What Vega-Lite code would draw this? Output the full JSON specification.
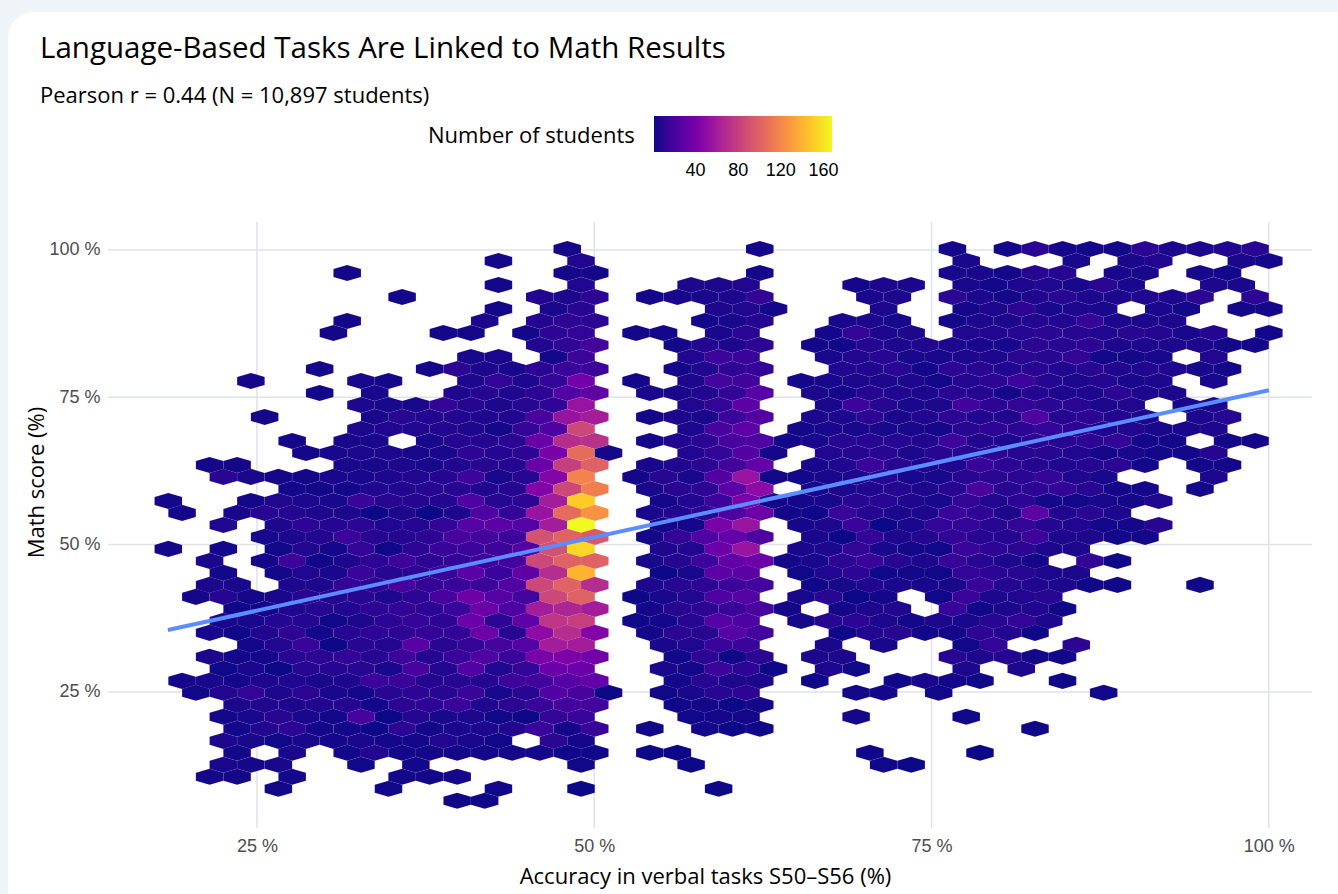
{"$schema":"https://vega.github.io/schema/vega-lite/v6.json","width":1204,"height":606,"autosize":{"type":"none"},"padding":{"left":108,"top":222,"right":26,"bottom":66},"background":"#eef4f8","config":{"view":{"stroke":null}},"title":{"text":"Language-Based Tasks Are Linked to Math Results","subtitle":"Pearson r = 0.44 (N = 10,897 students)","anchor":"start","frame":"group","dx":-68,"offset":-96,"limit":900,"font":"Open Sans","fontSize":29.5,"fontWeight":"normal","color":"#000000","subtitleFont":"Open Sans","subtitleFontSize":22,"subtitleColor":"#000000","subtitlePadding":21},"layer":[{"data":{"values":[{"x":6.55,"x2":115,"y":140.4,"y2":-25}]},"mark":{"type":"rect","fill":"#ffffff","cornerRadius":26},"encoding":{"x":{"field":"x","type":"quantitative","scale":{"domain":[13.96,103.2],"nice":false,"zero":false},"axis":{"grid":false,"domain":false,"ticks":false,"values":[25,50,75,100],"labelExpr":"datum.value + ' %'","labelFont":"Liberation Sans","labelFontSize":18,"labelColor":"#4d4d4d","labelPadding":9,"title":"Accuracy in verbal tasks S50–S56 (%)","titleFont":"Open Sans","titleFontSize":22,"titleFontWeight":"normal","titleColor":"#000000","titlePadding":11,"titleX":597,"zindex":1}},"x2":{"field":"x2"},"y":{"field":"y","type":"quantitative","scale":{"domain":[1.9,104.75],"nice":false,"zero":false},"axis":{"grid":false,"domain":false,"ticks":false,"values":[25,50,75,100],"labelExpr":"datum.value + ' %'","labelFont":"Liberation Sans","labelFontSize":18,"labelColor":"#4d4d4d","labelPadding":8,"title":"Math score (%)","titleFont":"Open Sans","titleFontSize":22,"titleFontWeight":"normal","titleColor":"#000000","titlePadding":0,"titleY":260,"zindex":1}},"y2":{"field":"y2"}}},{"data":{"values":[{"v":25},{"v":50},{"v":75},{"v":100}]},"mark":{"type":"rule","color":"#e0e2ea","strokeWidth":1.5},"encoding":{"x":{"field":"v","type":"quantitative"}}},{"data":{"values":[{"v":25},{"v":50},{"v":75},{"v":100}]},"mark":{"type":"rule","color":"#e0e2ea","strokeWidth":1.5},"encoding":{"y":{"field":"v","type":"quantitative"}}},{"data":{"values":[
{"x":48,"y":100.17,"n":3},{"x":62.27,"y":100.17,"n":3},{"x":76.55,"y":100.17,"n":3},{"x":80.63,"y":100.17,"n":3},{"x":82.67,"y":100.17,"n":9},{"x":84.71,"y":100.17,"n":3},{"x":86.74,"y":100.17,"n":3},{"x":88.78,"y":100.17,"n":3},{"x":90.82,"y":100.17,"n":10},{"x":92.86,"y":100.17,"n":5},{"x":94.9,"y":100.17,"n":5},{"x":96.94,"y":100.17,"n":6},{"x":98.98,"y":100.17,"n":8},
{"x":42.9,"y":98.13,"n":3},{"x":49.02,"y":98.13,"n":6},{"x":77.57,"y":98.13,"n":4},{"x":85.73,"y":98.13,"n":4},{"x":89.8,"y":98.13,"n":4},{"x":91.84,"y":98.13,"n":6},{"x":97.96,"y":98.13,"n":4},{"x":100,"y":98.13,"n":3},
{"x":31.69,"y":96.1,"n":3},{"x":48,"y":96.1,"n":3},{"x":50.04,"y":96.1,"n":3},{"x":62.27,"y":96.1,"n":3},{"x":76.55,"y":96.1,"n":4},{"x":78.59,"y":96.1,"n":4},{"x":80.63,"y":96.1,"n":3},{"x":82.67,"y":96.1,"n":8},{"x":84.71,"y":96.1,"n":7},{"x":88.78,"y":96.1,"n":4},{"x":90.82,"y":96.1,"n":4},{"x":94.9,"y":96.1,"n":4},{"x":96.94,"y":96.1,"n":3},
{"x":42.9,"y":94.06,"n":3},{"x":49.02,"y":94.06,"n":6},{"x":57.18,"y":94.06,"n":5},{"x":59.22,"y":94.06,"n":5},{"x":61.25,"y":94.06,"n":6},{"x":69.41,"y":94.06,"n":3},{"x":71.45,"y":94.06,"n":5},{"x":73.49,"y":94.06,"n":4},{"x":77.57,"y":94.06,"n":4},{"x":79.61,"y":94.06,"n":3},{"x":81.65,"y":94.06,"n":5},{"x":83.69,"y":94.06,"n":6},{"x":85.73,"y":94.06,"n":4},{"x":87.76,"y":94.06,"n":9},{"x":89.8,"y":94.06,"n":4},{"x":95.92,"y":94.06,"n":5},{"x":97.96,"y":94.06,"n":4},
{"x":35.76,"y":92.03,"n":3},{"x":45.96,"y":92.03,"n":6},{"x":48,"y":92.03,"n":5},{"x":50.04,"y":92.03,"n":10},{"x":54.12,"y":92.03,"n":3},{"x":56.16,"y":92.03,"n":4},{"x":58.2,"y":92.03,"n":4},{"x":60.24,"y":92.03,"n":5},{"x":62.27,"y":92.03,"n":12},{"x":70.43,"y":92.03,"n":4},{"x":72.47,"y":92.03,"n":5},{"x":76.55,"y":92.03,"n":9},{"x":78.59,"y":92.03,"n":5},{"x":80.63,"y":92.03,"n":3},{"x":82.67,"y":92.03,"n":6},{"x":84.71,"y":92.03,"n":8},{"x":86.74,"y":92.03,"n":5},{"x":88.78,"y":92.03,"n":5},{"x":90.82,"y":92.03,"n":6},{"x":92.86,"y":92.03,"n":5},{"x":94.9,"y":92.03,"n":9},{"x":98.98,"y":92.03,"n":10},
{"x":42.9,"y":89.99,"n":3},{"x":46.98,"y":89.99,"n":4},{"x":49.02,"y":89.99,"n":8},{"x":59.22,"y":89.99,"n":5},{"x":61.25,"y":89.99,"n":6},{"x":63.29,"y":89.99,"n":3},{"x":71.45,"y":89.99,"n":5},{"x":77.57,"y":89.99,"n":3},{"x":79.61,"y":89.99,"n":5},{"x":81.65,"y":89.99,"n":10},{"x":83.69,"y":89.99,"n":4},{"x":85.73,"y":89.99,"n":5},{"x":87.76,"y":89.99,"n":4},{"x":91.84,"y":89.99,"n":4},{"x":93.88,"y":89.99,"n":3},{"x":97.96,"y":89.99,"n":3},{"x":100,"y":89.99,"n":3},
{"x":31.69,"y":87.95,"n":3},{"x":41.88,"y":87.95,"n":5},{"x":45.96,"y":87.95,"n":7},{"x":48,"y":87.95,"n":10},{"x":50.04,"y":87.95,"n":10},{"x":58.2,"y":87.95,"n":3},{"x":60.24,"y":87.95,"n":4},{"x":62.27,"y":87.95,"n":7},{"x":68.39,"y":87.95,"n":4},{"x":70.43,"y":87.95,"n":5},{"x":72.47,"y":87.95,"n":4},{"x":76.55,"y":87.95,"n":3},{"x":78.59,"y":87.95,"n":5},{"x":80.63,"y":87.95,"n":5},{"x":82.67,"y":87.95,"n":7},{"x":84.71,"y":87.95,"n":6},{"x":86.74,"y":87.95,"n":13},{"x":88.78,"y":87.95,"n":5},{"x":90.82,"y":87.95,"n":5},{"x":92.86,"y":87.95,"n":5},
{"x":30.67,"y":85.92,"n":3},{"x":38.82,"y":85.92,"n":3},{"x":40.86,"y":85.92,"n":3},{"x":44.94,"y":85.92,"n":3},{"x":46.98,"y":85.92,"n":10},{"x":49.02,"y":85.92,"n":12},{"x":53.1,"y":85.92,"n":3},{"x":55.14,"y":85.92,"n":3},{"x":59.22,"y":85.92,"n":4},{"x":61.25,"y":85.92,"n":9},{"x":67.37,"y":85.92,"n":3},{"x":69.41,"y":85.92,"n":12},{"x":71.45,"y":85.92,"n":5},{"x":73.49,"y":85.92,"n":5},{"x":77.57,"y":85.92,"n":6},{"x":79.61,"y":85.92,"n":6},{"x":81.65,"y":85.92,"n":8},{"x":83.69,"y":85.92,"n":9},{"x":85.73,"y":85.92,"n":8},{"x":87.76,"y":85.92,"n":6},{"x":89.8,"y":85.92,"n":8},{"x":91.84,"y":85.92,"n":7},{"x":93.88,"y":85.92,"n":4},{"x":95.92,"y":85.92,"n":7},{"x":100,"y":85.92,"n":3},
{"x":45.96,"y":83.88,"n":6},{"x":48,"y":83.88,"n":11},{"x":50.04,"y":83.88,"n":18},{"x":56.16,"y":83.88,"n":3},{"x":58.2,"y":83.88,"n":7},{"x":60.24,"y":83.88,"n":5},{"x":62.27,"y":83.88,"n":10},{"x":66.35,"y":83.88,"n":3},{"x":68.39,"y":83.88,"n":3},{"x":70.43,"y":83.88,"n":7},{"x":72.47,"y":83.88,"n":5},{"x":74.51,"y":83.88,"n":6},{"x":76.55,"y":83.88,"n":5},{"x":78.59,"y":83.88,"n":4},{"x":80.63,"y":83.88,"n":4},{"x":82.67,"y":83.88,"n":9},{"x":84.71,"y":83.88,"n":8},{"x":86.74,"y":83.88,"n":10},{"x":88.78,"y":83.88,"n":5},{"x":90.82,"y":83.88,"n":5},{"x":92.86,"y":83.88,"n":5},{"x":94.9,"y":83.88,"n":5},{"x":96.94,"y":83.88,"n":3},{"x":98.98,"y":83.88,"n":3},
{"x":40.86,"y":81.85,"n":4},{"x":42.9,"y":81.85,"n":4},{"x":46.98,"y":81.85,"n":3},{"x":49.02,"y":81.85,"n":15},{"x":57.18,"y":81.85,"n":6},{"x":59.22,"y":81.85,"n":15},{"x":61.25,"y":81.85,"n":14},{"x":67.37,"y":81.85,"n":4},{"x":69.41,"y":81.85,"n":6},{"x":71.45,"y":81.85,"n":8},{"x":73.49,"y":81.85,"n":4},{"x":75.53,"y":81.85,"n":4},{"x":77.57,"y":81.85,"n":5},{"x":79.61,"y":81.85,"n":5},{"x":81.65,"y":81.85,"n":9},{"x":83.69,"y":81.85,"n":8},{"x":85.73,"y":81.85,"n":12},{"x":87.76,"y":81.85,"n":3},{"x":89.8,"y":81.85,"n":3},{"x":91.84,"y":81.85,"n":4},{"x":95.92,"y":81.85,"n":6},
{"x":29.65,"y":79.81,"n":3},{"x":37.8,"y":79.81,"n":3},{"x":39.84,"y":79.81,"n":10},{"x":41.88,"y":79.81,"n":5},{"x":43.92,"y":79.81,"n":4},{"x":45.96,"y":79.81,"n":10},{"x":48,"y":79.81,"n":14},{"x":50.04,"y":79.81,"n":16},{"x":56.16,"y":79.81,"n":3},{"x":58.2,"y":79.81,"n":6},{"x":60.24,"y":79.81,"n":11},{"x":62.27,"y":79.81,"n":12},{"x":68.39,"y":79.81,"n":6},{"x":70.43,"y":79.81,"n":6},{"x":72.47,"y":79.81,"n":8},{"x":74.51,"y":79.81,"n":3},{"x":76.55,"y":79.81,"n":10},{"x":78.59,"y":79.81,"n":8},{"x":80.63,"y":79.81,"n":6},{"x":82.67,"y":79.81,"n":8},{"x":84.71,"y":79.81,"n":6},{"x":86.74,"y":79.81,"n":8},{"x":88.78,"y":79.81,"n":6},{"x":90.82,"y":79.81,"n":6},{"x":92.86,"y":79.81,"n":6},{"x":94.9,"y":79.81,"n":4},{"x":96.94,"y":79.81,"n":3},
{"x":24.55,"y":77.77,"n":3},{"x":32.71,"y":77.77,"n":4},{"x":34.75,"y":77.77,"n":3},{"x":40.86,"y":77.77,"n":5},{"x":42.9,"y":77.77,"n":12},{"x":44.94,"y":77.77,"n":5},{"x":46.98,"y":77.77,"n":12},{"x":49.02,"y":77.77,"n":38},{"x":53.1,"y":77.77,"n":3},{"x":57.18,"y":77.77,"n":5},{"x":59.22,"y":77.77,"n":18},{"x":61.25,"y":77.77,"n":17},{"x":65.33,"y":77.77,"n":3},{"x":67.37,"y":77.77,"n":4},{"x":69.41,"y":77.77,"n":5},{"x":71.45,"y":77.77,"n":5},{"x":73.49,"y":77.77,"n":5},{"x":75.53,"y":77.77,"n":3},{"x":77.57,"y":77.77,"n":7},{"x":79.61,"y":77.77,"n":9},{"x":81.65,"y":77.77,"n":16},{"x":83.69,"y":77.77,"n":7},{"x":85.73,"y":77.77,"n":5},{"x":87.76,"y":77.77,"n":7},{"x":89.8,"y":77.77,"n":4},{"x":91.84,"y":77.77,"n":5},{"x":95.92,"y":77.77,"n":4},
{"x":29.65,"y":75.74,"n":3},{"x":33.73,"y":75.74,"n":4},{"x":39.84,"y":75.74,"n":5},{"x":41.88,"y":75.74,"n":7},{"x":43.92,"y":75.74,"n":6},{"x":45.96,"y":75.74,"n":10},{"x":48,"y":75.74,"n":24},{"x":50.04,"y":75.74,"n":30},{"x":54.12,"y":75.74,"n":4},{"x":56.16,"y":75.74,"n":4},{"x":58.2,"y":75.74,"n":6},{"x":60.24,"y":75.74,"n":12},{"x":62.27,"y":75.74,"n":26},{"x":66.35,"y":75.74,"n":5},{"x":68.39,"y":75.74,"n":3},{"x":70.43,"y":75.74,"n":7},{"x":72.47,"y":75.74,"n":6},{"x":74.51,"y":75.74,"n":5},{"x":76.55,"y":75.74,"n":8},{"x":78.59,"y":75.74,"n":7},{"x":80.63,"y":75.74,"n":3},{"x":82.67,"y":75.74,"n":7},{"x":84.71,"y":75.74,"n":5},{"x":86.74,"y":75.74,"n":5},{"x":88.78,"y":75.74,"n":10},{"x":90.82,"y":75.74,"n":5},{"x":92.86,"y":75.74,"n":5},
{"x":32.71,"y":73.7,"n":5},{"x":34.75,"y":73.7,"n":4},{"x":36.78,"y":73.7,"n":4},{"x":38.82,"y":73.7,"n":12},{"x":40.86,"y":73.7,"n":7},{"x":42.9,"y":73.7,"n":5},{"x":44.94,"y":73.7,"n":8},{"x":46.98,"y":73.7,"n":11},{"x":49.02,"y":73.7,"n":55},{"x":57.18,"y":73.7,"n":6},{"x":59.22,"y":73.7,"n":12},{"x":61.25,"y":73.7,"n":28},{"x":67.37,"y":73.7,"n":4},{"x":69.41,"y":73.7,"n":16},{"x":71.45,"y":73.7,"n":8},{"x":73.49,"y":73.7,"n":4},{"x":75.53,"y":73.7,"n":5},{"x":77.57,"y":73.7,"n":17},{"x":79.61,"y":73.7,"n":10},{"x":81.65,"y":73.7,"n":12},{"x":83.69,"y":73.7,"n":9},{"x":85.73,"y":73.7,"n":9},{"x":87.76,"y":73.7,"n":5},{"x":89.8,"y":73.7,"n":6},{"x":93.88,"y":73.7,"n":4},{"x":95.92,"y":73.7,"n":5},
{"x":25.57,"y":71.67,"n":3},{"x":33.73,"y":71.67,"n":4},{"x":35.76,"y":71.67,"n":8},{"x":37.8,"y":71.67,"n":6},{"x":39.84,"y":71.67,"n":6},{"x":41.88,"y":71.67,"n":6},{"x":43.92,"y":71.67,"n":6},{"x":45.96,"y":71.67,"n":20},{"x":48,"y":71.67,"n":55},{"x":50.04,"y":71.67,"n":60},{"x":54.12,"y":71.67,"n":3},{"x":56.16,"y":71.67,"n":5},{"x":58.2,"y":71.67,"n":4},{"x":60.24,"y":71.67,"n":15},{"x":62.27,"y":71.67,"n":24},{"x":66.35,"y":71.67,"n":5},{"x":68.39,"y":71.67,"n":5},{"x":70.43,"y":71.67,"n":10},{"x":72.47,"y":71.67,"n":4},{"x":74.51,"y":71.67,"n":6},{"x":76.55,"y":71.67,"n":10},{"x":78.59,"y":71.67,"n":6},{"x":80.63,"y":71.67,"n":6},{"x":82.67,"y":71.67,"n":22},{"x":84.71,"y":71.67,"n":7},{"x":86.74,"y":71.67,"n":9},{"x":88.78,"y":71.67,"n":6},{"x":90.82,"y":71.67,"n":5},{"x":94.9,"y":71.67,"n":5},{"x":96.94,"y":71.67,"n":8},
{"x":32.71,"y":69.63,"n":5},{"x":34.75,"y":69.63,"n":6},{"x":36.78,"y":69.63,"n":6},{"x":38.82,"y":69.63,"n":6},{"x":40.86,"y":69.63,"n":5},{"x":42.9,"y":69.63,"n":3},{"x":44.94,"y":69.63,"n":12},{"x":46.98,"y":69.63,"n":22},{"x":49.02,"y":69.63,"n":85},{"x":57.18,"y":69.63,"n":5},{"x":59.22,"y":69.63,"n":20},{"x":61.25,"y":69.63,"n":28},{"x":65.33,"y":69.63,"n":3},{"x":67.37,"y":69.63,"n":4},{"x":69.41,"y":69.63,"n":4},{"x":71.45,"y":69.63,"n":4},{"x":73.49,"y":69.63,"n":4},{"x":75.53,"y":69.63,"n":3},{"x":77.57,"y":69.63,"n":8},{"x":79.61,"y":69.63,"n":10},{"x":81.65,"y":69.63,"n":10},{"x":83.69,"y":69.63,"n":12},{"x":85.73,"y":69.63,"n":10},{"x":87.76,"y":69.63,"n":6},{"x":89.8,"y":69.63,"n":6},{"x":91.84,"y":69.63,"n":4},{"x":93.88,"y":69.63,"n":4},{"x":95.92,"y":69.63,"n":5},
{"x":27.61,"y":67.59,"n":3},{"x":31.69,"y":67.59,"n":4},{"x":33.73,"y":67.59,"n":4},{"x":37.8,"y":67.59,"n":4},{"x":39.84,"y":67.59,"n":7},{"x":41.88,"y":67.59,"n":7},{"x":43.92,"y":67.59,"n":9},{"x":45.96,"y":67.59,"n":34},{"x":48,"y":67.59,"n":70},{"x":50.04,"y":67.59,"n":72},{"x":54.12,"y":67.59,"n":3},{"x":56.16,"y":67.59,"n":6},{"x":58.2,"y":67.59,"n":10},{"x":60.24,"y":67.59,"n":20},{"x":62.27,"y":67.59,"n":22},{"x":64.31,"y":67.59,"n":3},{"x":66.35,"y":67.59,"n":4},{"x":68.39,"y":67.59,"n":8},{"x":70.43,"y":67.59,"n":8},{"x":72.47,"y":67.59,"n":8},{"x":74.51,"y":67.59,"n":6},{"x":76.55,"y":67.59,"n":16},{"x":78.59,"y":67.59,"n":6},{"x":80.63,"y":67.59,"n":5},{"x":82.67,"y":67.59,"n":10},{"x":84.71,"y":67.59,"n":8},{"x":86.74,"y":67.59,"n":10},{"x":88.78,"y":67.59,"n":12},{"x":90.82,"y":67.59,"n":3},{"x":92.86,"y":67.59,"n":3},{"x":96.94,"y":67.59,"n":3},{"x":98.98,"y":67.59,"n":3},
{"x":28.63,"y":65.56,"n":3},{"x":30.67,"y":65.56,"n":4},{"x":32.71,"y":65.56,"n":5},{"x":34.75,"y":65.56,"n":5},{"x":36.78,"y":65.56,"n":4},{"x":38.82,"y":65.56,"n":4},{"x":40.86,"y":65.56,"n":10},{"x":42.9,"y":65.56,"n":7},{"x":44.94,"y":65.56,"n":10},{"x":46.98,"y":65.56,"n":40},{"x":49.02,"y":65.56,"n":105},{"x":51.06,"y":65.56,"n":3},{"x":57.18,"y":65.56,"n":6},{"x":59.22,"y":65.56,"n":12},{"x":61.25,"y":65.56,"n":24},{"x":63.29,"y":65.56,"n":3},{"x":67.37,"y":65.56,"n":6},{"x":69.41,"y":65.56,"n":7},{"x":71.45,"y":65.56,"n":8},{"x":73.49,"y":65.56,"n":5},{"x":75.53,"y":65.56,"n":8},{"x":77.57,"y":65.56,"n":8},{"x":79.61,"y":65.56,"n":10},{"x":81.65,"y":65.56,"n":8},{"x":83.69,"y":65.56,"n":8},{"x":85.73,"y":65.56,"n":6},{"x":87.76,"y":65.56,"n":3},{"x":89.8,"y":65.56,"n":4},{"x":91.84,"y":65.56,"n":3},{"x":93.88,"y":65.56,"n":3},{"x":95.92,"y":65.56,"n":7},
{"x":22.51,"y":61.49,"n":8},{"x":24.55,"y":61.49,"n":4},{"x":26.59,"y":61.49,"n":3},{"x":28.63,"y":61.49,"n":3},{"x":30.67,"y":61.49,"n":4},{"x":32.71,"y":61.49,"n":4},{"x":34.75,"y":61.49,"n":5},{"x":36.78,"y":61.49,"n":6},{"x":38.82,"y":61.49,"n":7},{"x":40.86,"y":61.49,"n":16},{"x":42.9,"y":61.49,"n":4},{"x":44.94,"y":61.49,"n":8},{"x":46.98,"y":61.49,"n":45},{"x":49.02,"y":61.49,"n":118},{"x":53.1,"y":61.49,"n":3},{"x":55.14,"y":61.49,"n":8},{"x":57.18,"y":61.49,"n":4},{"x":59.22,"y":61.49,"n":24},{"x":61.25,"y":61.49,"n":55},{"x":63.29,"y":61.49,"n":3},{"x":65.33,"y":61.49,"n":3},{"x":67.37,"y":61.49,"n":4},{"x":69.41,"y":61.49,"n":5},{"x":71.45,"y":61.49,"n":8},{"x":73.49,"y":61.49,"n":4},{"x":75.53,"y":61.49,"n":4},{"x":77.57,"y":61.49,"n":8},{"x":79.61,"y":61.49,"n":9},{"x":81.65,"y":61.49,"n":9},{"x":83.69,"y":61.49,"n":12},{"x":85.73,"y":61.49,"n":6},{"x":87.76,"y":61.49,"n":4},{"x":95.92,"y":61.49,"n":5},
{"x":21.49,"y":63.52,"n":3},{"x":23.53,"y":63.52,"n":3},{"x":31.69,"y":63.52,"n":4},{"x":33.73,"y":63.52,"n":4},{"x":35.76,"y":63.52,"n":5},{"x":37.8,"y":63.52,"n":4},{"x":39.84,"y":63.52,"n":6},{"x":41.88,"y":63.52,"n":8},{"x":43.92,"y":63.52,"n":7},{"x":45.96,"y":63.52,"n":34},{"x":48,"y":63.52,"n":80},{"x":50.04,"y":63.52,"n":100},{"x":54.12,"y":63.52,"n":4},{"x":56.16,"y":63.52,"n":6},{"x":58.2,"y":63.52,"n":9},{"x":60.24,"y":63.52,"n":18},{"x":62.27,"y":63.52,"n":32},{"x":66.35,"y":63.52,"n":4},{"x":68.39,"y":63.52,"n":6},{"x":70.43,"y":63.52,"n":14},{"x":72.47,"y":63.52,"n":8},{"x":74.51,"y":63.52,"n":5},{"x":76.55,"y":63.52,"n":6},{"x":78.59,"y":63.52,"n":14},{"x":80.63,"y":63.52,"n":10},{"x":82.67,"y":63.52,"n":7},{"x":84.71,"y":63.52,"n":6},{"x":86.74,"y":63.52,"n":7},{"x":88.78,"y":63.52,"n":9},{"x":90.82,"y":63.52,"n":3},{"x":94.9,"y":63.52,"n":3},{"x":96.94,"y":63.52,"n":3},
{"x":27.61,"y":59.45,"n":3},{"x":29.65,"y":59.45,"n":3},{"x":31.69,"y":59.45,"n":3},{"x":33.73,"y":59.45,"n":6},{"x":35.76,"y":59.45,"n":6},{"x":37.8,"y":59.45,"n":8},{"x":39.84,"y":59.45,"n":8},{"x":41.88,"y":59.45,"n":6},{"x":43.92,"y":59.45,"n":7},{"x":45.96,"y":59.45,"n":45},{"x":48,"y":59.45,"n":85},{"x":50.04,"y":59.45,"n":115},{"x":54.12,"y":59.45,"n":4},{"x":56.16,"y":59.45,"n":8},{"x":58.2,"y":59.45,"n":10},{"x":60.24,"y":59.45,"n":28},{"x":62.27,"y":59.45,"n":50},{"x":66.35,"y":59.45,"n":4},{"x":68.39,"y":59.45,"n":5},{"x":70.43,"y":59.45,"n":6},{"x":72.47,"y":59.45,"n":7},{"x":74.51,"y":59.45,"n":5},{"x":76.55,"y":59.45,"n":8},{"x":78.59,"y":59.45,"n":20},{"x":80.63,"y":59.45,"n":8},{"x":82.67,"y":59.45,"n":10},{"x":84.71,"y":59.45,"n":12},{"x":86.74,"y":59.45,"n":8},{"x":88.78,"y":59.45,"n":3},{"x":90.82,"y":59.45,"n":3},{"x":94.9,"y":59.45,"n":3},
{"x":18.43,"y":57.41,"n":3},{"x":24.55,"y":57.41,"n":3},{"x":26.59,"y":57.41,"n":6},{"x":28.63,"y":57.41,"n":5},{"x":30.67,"y":57.41,"n":4},{"x":32.71,"y":57.41,"n":14},{"x":34.75,"y":57.41,"n":8},{"x":36.78,"y":57.41,"n":7},{"x":38.82,"y":57.41,"n":7},{"x":40.86,"y":57.41,"n":22},{"x":42.9,"y":57.41,"n":8},{"x":44.94,"y":57.41,"n":10},{"x":46.98,"y":57.41,"n":60},{"x":49.02,"y":57.41,"n":150},{"x":55.14,"y":57.41,"n":3},{"x":57.18,"y":57.41,"n":6},{"x":59.22,"y":57.41,"n":16},{"x":61.25,"y":57.41,"n":40},{"x":63.29,"y":57.41,"n":3},{"x":65.33,"y":57.41,"n":3},{"x":67.37,"y":57.41,"n":4},{"x":69.41,"y":57.41,"n":8},{"x":71.45,"y":57.41,"n":8},{"x":73.49,"y":57.41,"n":5},{"x":75.53,"y":57.41,"n":4},{"x":77.57,"y":57.41,"n":12},{"x":79.61,"y":57.41,"n":6},{"x":81.65,"y":57.41,"n":10},{"x":83.69,"y":57.41,"n":3},{"x":85.73,"y":57.41,"n":3},{"x":87.76,"y":57.41,"n":4},{"x":89.8,"y":57.41,"n":3},{"x":91.84,"y":57.41,"n":6},
{"x":19.45,"y":55.38,"n":3},{"x":23.53,"y":55.38,"n":4},{"x":25.57,"y":55.38,"n":8},{"x":27.61,"y":55.38,"n":7},{"x":29.65,"y":55.38,"n":5},{"x":31.69,"y":55.38,"n":5},{"x":33.73,"y":55.38,"n":1},{"x":35.76,"y":55.38,"n":5},{"x":37.8,"y":55.38,"n":1},{"x":39.84,"y":55.38,"n":5},{"x":41.88,"y":55.38,"n":22},{"x":43.92,"y":55.38,"n":12},{"x":45.96,"y":55.38,"n":55},{"x":48,"y":55.38,"n":105},{"x":50.04,"y":55.38,"n":125},{"x":54.12,"y":55.38,"n":4},{"x":56.16,"y":55.38,"n":6},{"x":58.2,"y":55.38,"n":9},{"x":60.24,"y":55.38,"n":22},{"x":62.27,"y":55.38,"n":35},{"x":64.31,"y":55.38,"n":3},{"x":66.35,"y":55.38,"n":2},{"x":68.39,"y":55.38,"n":14},{"x":70.43,"y":55.38,"n":7},{"x":72.47,"y":55.38,"n":5},{"x":74.51,"y":55.38,"n":5},{"x":76.55,"y":55.38,"n":14},{"x":78.59,"y":55.38,"n":11},{"x":80.63,"y":55.38,"n":5},{"x":82.67,"y":55.38,"n":28},{"x":84.71,"y":55.38,"n":6},{"x":86.74,"y":55.38,"n":9},{"x":88.78,"y":55.38,"n":5},
{"x":22.51,"y":53.34,"n":6},{"x":26.59,"y":53.34,"n":5},{"x":28.63,"y":53.34,"n":10},{"x":30.67,"y":53.34,"n":7},{"x":32.71,"y":53.34,"n":9},{"x":34.75,"y":53.34,"n":6},{"x":36.78,"y":53.34,"n":7},{"x":38.82,"y":53.34,"n":12},{"x":40.86,"y":53.34,"n":25},{"x":42.9,"y":53.34,"n":28},{"x":44.94,"y":53.34,"n":25},{"x":46.98,"y":53.34,"n":60},{"x":49.02,"y":53.34,"n":168},{"x":55.14,"y":53.34,"n":3},{"x":57.18,"y":53.34,"n":3},{"x":59.22,"y":53.34,"n":40},{"x":61.25,"y":53.34,"n":55},{"x":65.33,"y":53.34,"n":3},{"x":67.37,"y":53.34,"n":5},{"x":69.41,"y":53.34,"n":14},{"x":71.45,"y":53.34,"n":1},{"x":73.49,"y":53.34,"n":4},{"x":75.53,"y":53.34,"n":12},{"x":77.57,"y":53.34,"n":12},{"x":79.61,"y":53.34,"n":8},{"x":81.65,"y":53.34,"n":12},{"x":83.69,"y":53.34,"n":7},{"x":85.73,"y":53.34,"n":6},{"x":87.76,"y":53.34,"n":3},{"x":89.8,"y":53.34,"n":3},{"x":91.84,"y":53.34,"n":8},
{"x":25.57,"y":51.31,"n":4},{"x":27.61,"y":51.31,"n":5},{"x":29.65,"y":51.31,"n":6},{"x":31.69,"y":51.31,"n":16},{"x":33.73,"y":51.31,"n":8},{"x":35.76,"y":51.31,"n":7},{"x":37.8,"y":51.31,"n":10},{"x":39.84,"y":51.31,"n":20},{"x":41.88,"y":51.31,"n":18},{"x":43.92,"y":51.31,"n":16},{"x":45.96,"y":51.31,"n":90},{"x":48,"y":51.31,"n":100},{"x":50.04,"y":51.31,"n":95},{"x":54.12,"y":51.31,"n":3},{"x":56.16,"y":51.31,"n":12},{"x":58.2,"y":51.31,"n":22},{"x":60.24,"y":51.31,"n":32},{"x":62.27,"y":51.31,"n":22},{"x":66.35,"y":51.31,"n":4},{"x":68.39,"y":51.31,"n":1},{"x":70.43,"y":51.31,"n":12},{"x":72.47,"y":51.31,"n":5},{"x":74.51,"y":51.31,"n":7},{"x":76.55,"y":51.31,"n":12},{"x":78.59,"y":51.31,"n":8},{"x":80.63,"y":51.31,"n":7},{"x":82.67,"y":51.31,"n":16},{"x":84.71,"y":51.31,"n":5},{"x":86.74,"y":51.31,"n":5},{"x":88.78,"y":51.31,"n":3},{"x":90.82,"y":51.31,"n":3},
{"x":18.43,"y":49.27,"n":3},{"x":22.51,"y":49.27,"n":3},{"x":26.59,"y":49.27,"n":2},{"x":28.63,"y":49.27,"n":6},{"x":30.67,"y":49.27,"n":3},{"x":32.71,"y":49.27,"n":12},{"x":34.75,"y":49.27,"n":2},{"x":36.78,"y":49.27,"n":10},{"x":38.82,"y":49.27,"n":14},{"x":40.86,"y":49.27,"n":16},{"x":42.9,"y":49.27,"n":16},{"x":44.94,"y":49.27,"n":25},{"x":46.98,"y":49.27,"n":90},{"x":49.02,"y":49.27,"n":155},{"x":55.14,"y":49.27,"n":5},{"x":57.18,"y":49.27,"n":6},{"x":59.22,"y":49.27,"n":35},{"x":61.25,"y":49.27,"n":55},{"x":65.33,"y":49.27,"n":4},{"x":67.37,"y":49.27,"n":5},{"x":69.41,"y":49.27,"n":12},{"x":71.45,"y":49.27,"n":4},{"x":73.49,"y":49.27,"n":3},{"x":75.53,"y":49.27,"n":2},{"x":77.57,"y":49.27,"n":14},{"x":79.61,"y":49.27,"n":10},{"x":81.65,"y":49.27,"n":9},{"x":83.69,"y":49.27,"n":5},{"x":85.73,"y":49.27,"n":5},
{"x":21.49,"y":47.23,"n":4},{"x":25.57,"y":47.23,"n":3},{"x":27.61,"y":47.23,"n":16},{"x":29.65,"y":47.23,"n":2},{"x":31.69,"y":47.23,"n":5},{"x":33.73,"y":47.23,"n":10},{"x":35.76,"y":47.23,"n":16},{"x":37.8,"y":47.23,"n":10},{"x":39.84,"y":47.23,"n":12},{"x":41.88,"y":47.23,"n":16},{"x":43.92,"y":47.23,"n":18},{"x":45.96,"y":47.23,"n":85},{"x":48,"y":47.23,"n":100},{"x":50.04,"y":47.23,"n":100},{"x":54.12,"y":47.23,"n":4},{"x":56.16,"y":47.23,"n":7},{"x":58.2,"y":47.23,"n":16},{"x":60.24,"y":47.23,"n":32},{"x":62.27,"y":47.23,"n":35},{"x":64.31,"y":47.23,"n":3},{"x":66.35,"y":47.23,"n":4},{"x":68.39,"y":47.23,"n":10},{"x":70.43,"y":47.23,"n":14},{"x":72.47,"y":47.23,"n":8},{"x":74.51,"y":47.23,"n":5},{"x":76.55,"y":47.23,"n":14},{"x":78.59,"y":47.23,"n":8},{"x":80.63,"y":47.23,"n":5},{"x":82.67,"y":47.23,"n":3},{"x":86.74,"y":47.23,"n":12},{"x":88.78,"y":47.23,"n":2},
{"x":22.51,"y":45.2,"n":3},{"x":26.59,"y":45.2,"n":3},{"x":28.63,"y":45.2,"n":6},{"x":30.67,"y":45.2,"n":4},{"x":32.71,"y":45.2,"n":14},{"x":34.75,"y":45.2,"n":8},{"x":36.78,"y":45.2,"n":10},{"x":38.82,"y":45.2,"n":14},{"x":40.86,"y":45.2,"n":28},{"x":42.9,"y":45.2,"n":14},{"x":44.94,"y":45.2,"n":30},{"x":46.98,"y":45.2,"n":70},{"x":49.02,"y":45.2,"n":140},{"x":55.14,"y":45.2,"n":1},{"x":57.18,"y":45.2,"n":4},{"x":59.22,"y":45.2,"n":28},{"x":61.25,"y":45.2,"n":28},{"x":65.33,"y":45.2,"n":2},{"x":67.37,"y":45.2,"n":6},{"x":69.41,"y":45.2,"n":10},{"x":71.45,"y":45.2,"n":2},{"x":73.49,"y":45.2,"n":3},{"x":75.53,"y":45.2,"n":2},{"x":77.57,"y":45.2,"n":12},{"x":79.61,"y":45.2,"n":10},{"x":81.65,"y":45.2,"n":8},{"x":83.69,"y":45.2,"n":5},{"x":85.73,"y":45.2,"n":5},
{"x":21.49,"y":43.16,"n":5},{"x":23.53,"y":43.16,"n":4},{"x":27.61,"y":43.16,"n":5},{"x":29.65,"y":43.16,"n":5},{"x":31.69,"y":43.16,"n":12},{"x":33.73,"y":43.16,"n":10},{"x":35.76,"y":43.16,"n":20},{"x":37.8,"y":43.16,"n":12},{"x":39.84,"y":43.16,"n":14},{"x":41.88,"y":43.16,"n":16},{"x":43.92,"y":43.16,"n":24},{"x":45.96,"y":43.16,"n":85},{"x":48,"y":43.16,"n":100},{"x":50.04,"y":43.16,"n":70},{"x":54.12,"y":43.16,"n":5},{"x":56.16,"y":43.16,"n":8},{"x":58.2,"y":43.16,"n":10},{"x":60.24,"y":43.16,"n":16},{"x":62.27,"y":43.16,"n":18},{"x":66.35,"y":43.16,"n":2},{"x":68.39,"y":43.16,"n":4},{"x":70.43,"y":43.16,"n":6},{"x":72.47,"y":43.16,"n":4},{"x":74.51,"y":43.16,"n":4},{"x":76.55,"y":43.16,"n":4},{"x":78.59,"y":43.16,"n":14},{"x":80.63,"y":43.16,"n":7},{"x":82.67,"y":43.16,"n":6},{"x":84.71,"y":43.16,"n":5},{"x":86.74,"y":43.16,"n":2},{"x":88.78,"y":43.16,"n":2},{"x":94.9,"y":43.16,"n":2},
{"x":20.47,"y":41.13,"n":3},{"x":22.51,"y":41.13,"n":7},{"x":24.55,"y":41.13,"n":3},{"x":26.59,"y":41.13,"n":4},{"x":28.63,"y":41.13,"n":8},{"x":30.67,"y":41.13,"n":7},{"x":32.71,"y":41.13,"n":8},{"x":34.75,"y":41.13,"n":5},{"x":36.78,"y":41.13,"n":10},{"x":38.82,"y":41.13,"n":20},{"x":40.86,"y":41.13,"n":36},{"x":42.9,"y":41.13,"n":25},{"x":44.94,"y":41.13,"n":18},{"x":46.98,"y":41.13,"n":85},{"x":49.02,"y":41.13,"n":100},{"x":53.1,"y":41.13,"n":1},{"x":55.14,"y":41.13,"n":4},{"x":57.18,"y":41.13,"n":6},{"x":59.22,"y":41.13,"n":22},{"x":61.25,"y":41.13,"n":25},{"x":65.33,"y":41.13,"n":4},{"x":67.37,"y":41.13,"n":8},{"x":69.41,"y":41.13,"n":1},{"x":71.45,"y":41.13,"n":3},{"x":75.53,"y":41.13,"n":2},{"x":77.57,"y":41.13,"n":14},{"x":79.61,"y":41.13,"n":5},{"x":81.65,"y":41.13,"n":6},{"x":83.69,"y":41.13,"n":8},
{"x":23.53,"y":39.09,"n":2},{"x":25.57,"y":39.09,"n":3},{"x":27.61,"y":39.09,"n":6},{"x":29.65,"y":39.09,"n":8},{"x":31.69,"y":39.09,"n":6},{"x":33.73,"y":39.09,"n":10},{"x":35.76,"y":39.09,"n":12},{"x":37.8,"y":39.09,"n":10},{"x":39.84,"y":39.09,"n":14},{"x":41.88,"y":39.09,"n":34},{"x":43.92,"y":39.09,"n":22},{"x":45.96,"y":39.09,"n":60},{"x":48,"y":39.09,"n":65},{"x":50.04,"y":39.09,"n":60},{"x":54.12,"y":39.09,"n":3},{"x":56.16,"y":39.09,"n":8},{"x":58.2,"y":39.09,"n":10},{"x":60.24,"y":39.09,"n":14},{"x":62.27,"y":39.09,"n":20},{"x":64.31,"y":39.09,"n":3},{"x":68.39,"y":39.09,"n":3},{"x":70.43,"y":39.09,"n":5},{"x":72.47,"y":39.09,"n":6},{"x":76.55,"y":39.09,"n":14},{"x":78.59,"y":39.09,"n":2},{"x":80.63,"y":39.09,"n":5},{"x":82.67,"y":39.09,"n":6},{"x":84.71,"y":39.09,"n":2},
{"x":22.51,"y":37.05,"n":4},{"x":24.55,"y":37.05,"n":4},{"x":26.59,"y":37.05,"n":7},{"x":28.63,"y":37.05,"n":7},{"x":30.67,"y":37.05,"n":2},{"x":32.71,"y":37.05,"n":5},{"x":34.75,"y":37.05,"n":10},{"x":36.78,"y":37.05,"n":12},{"x":38.82,"y":37.05,"n":10},{"x":40.86,"y":37.05,"n":34},{"x":42.9,"y":37.05,"n":10},{"x":44.94,"y":37.05,"n":30},{"x":46.98,"y":37.05,"n":75},{"x":49.02,"y":37.05,"n":80},{"x":53.1,"y":37.05,"n":2},{"x":55.14,"y":37.05,"n":3},{"x":57.18,"y":37.05,"n":8},{"x":59.22,"y":37.05,"n":25},{"x":61.25,"y":37.05,"n":22},{"x":65.33,"y":37.05,"n":3},{"x":67.37,"y":37.05,"n":8},{"x":69.41,"y":37.05,"n":10},{"x":71.45,"y":37.05,"n":5},{"x":73.49,"y":37.05,"n":3},{"x":75.53,"y":37.05,"n":5},{"x":77.57,"y":37.05,"n":4},{"x":79.61,"y":37.05,"n":8},{"x":81.65,"y":37.05,"n":12},{"x":83.69,"y":37.05,"n":5},
{"x":21.49,"y":35.02,"n":4},{"x":23.53,"y":35.02,"n":2},{"x":25.57,"y":35.02,"n":6},{"x":27.61,"y":35.02,"n":10},{"x":29.65,"y":35.02,"n":3},{"x":31.69,"y":35.02,"n":8},{"x":33.73,"y":35.02,"n":10},{"x":35.76,"y":35.02,"n":10},{"x":37.8,"y":35.02,"n":12},{"x":39.84,"y":35.02,"n":12},{"x":41.88,"y":35.02,"n":35},{"x":43.92,"y":35.02,"n":8},{"x":45.96,"y":35.02,"n":50},{"x":48,"y":35.02,"n":70},{"x":50.04,"y":35.02,"n":45},{"x":54.12,"y":35.02,"n":3},{"x":56.16,"y":35.02,"n":9},{"x":58.2,"y":35.02,"n":8},{"x":60.24,"y":35.02,"n":26},{"x":62.27,"y":35.02,"n":18},{"x":68.39,"y":35.02,"n":2},{"x":70.43,"y":35.02,"n":6},{"x":72.47,"y":35.02,"n":8},{"x":74.51,"y":35.02,"n":3},{"x":76.55,"y":35.02,"n":3},{"x":78.59,"y":35.02,"n":10},{"x":80.63,"y":35.02,"n":7},{"x":82.67,"y":35.02,"n":2},
{"x":24.55,"y":32.98,"n":3},{"x":26.59,"y":32.98,"n":6},{"x":28.63,"y":32.98,"n":14},{"x":30.67,"y":32.98,"n":1},{"x":32.71,"y":32.98,"n":8},{"x":34.75,"y":32.98,"n":7},{"x":36.78,"y":32.98,"n":26},{"x":38.82,"y":32.98,"n":8},{"x":40.86,"y":32.98,"n":12},{"x":42.9,"y":32.98,"n":18},{"x":44.94,"y":32.98,"n":25},{"x":46.98,"y":32.98,"n":60},{"x":49.02,"y":32.98,"n":60},{"x":55.14,"y":32.98,"n":4},{"x":57.18,"y":32.98,"n":6},{"x":59.22,"y":32.98,"n":14},{"x":61.25,"y":32.98,"n":14},{"x":67.37,"y":32.98,"n":4},{"x":71.45,"y":32.98,"n":4},{"x":77.57,"y":32.98,"n":2},{"x":79.61,"y":32.98,"n":12},{"x":85.73,"y":32.98,"n":10},
{"x":21.49,"y":30.95,"n":5},{"x":23.53,"y":30.95,"n":3},{"x":25.57,"y":30.95,"n":3},{"x":27.61,"y":30.95,"n":8},{"x":29.65,"y":30.95,"n":9},{"x":31.69,"y":30.95,"n":12},{"x":33.73,"y":30.95,"n":8},{"x":35.76,"y":30.95,"n":16},{"x":37.8,"y":30.95,"n":7},{"x":39.84,"y":30.95,"n":14},{"x":41.88,"y":30.95,"n":22},{"x":43.92,"y":30.95,"n":14},{"x":45.96,"y":30.95,"n":40},{"x":48,"y":30.95,"n":42},{"x":50.04,"y":30.95,"n":38},{"x":56.16,"y":30.95,"n":3},{"x":58.2,"y":30.95,"n":10},{"x":60.24,"y":30.95,"n":2},{"x":62.27,"y":30.95,"n":9},{"x":66.35,"y":30.95,"n":5},{"x":68.39,"y":30.95,"n":5},{"x":76.55,"y":30.95,"n":8},{"x":78.59,"y":30.95,"n":5},{"x":80.63,"y":30.95,"n":7},{"x":82.67,"y":30.95,"n":3},{"x":84.71,"y":30.95,"n":2},
{"x":22.51,"y":28.91,"n":2},{"x":24.55,"y":28.91,"n":4},{"x":26.59,"y":28.91,"n":1},{"x":28.63,"y":28.91,"n":8},{"x":30.67,"y":28.91,"n":7},{"x":32.71,"y":28.91,"n":8},{"x":34.75,"y":28.91,"n":4},{"x":36.78,"y":28.91,"n":20},{"x":38.82,"y":28.91,"n":6},{"x":40.86,"y":28.91,"n":24},{"x":42.9,"y":28.91,"n":6},{"x":44.94,"y":28.91,"n":12},{"x":46.98,"y":28.91,"n":35},{"x":49.02,"y":28.91,"n":35},{"x":55.14,"y":28.91,"n":4},{"x":57.18,"y":28.91,"n":3},{"x":59.22,"y":28.91,"n":15},{"x":61.25,"y":28.91,"n":10},{"x":63.29,"y":28.91,"n":1},{"x":67.37,"y":28.91,"n":5},{"x":69.41,"y":28.91,"n":2},{"x":77.57,"y":28.91,"n":5},{"x":81.65,"y":28.91,"n":5},
{"x":19.45,"y":26.87,"n":3},{"x":21.49,"y":26.87,"n":4},{"x":23.53,"y":26.87,"n":3},{"x":25.57,"y":26.87,"n":5},{"x":27.61,"y":26.87,"n":6},{"x":29.65,"y":26.87,"n":4},{"x":31.69,"y":26.87,"n":5},{"x":33.73,"y":26.87,"n":15},{"x":35.76,"y":26.87,"n":14},{"x":37.8,"y":26.87,"n":7},{"x":39.84,"y":26.87,"n":8},{"x":41.88,"y":26.87,"n":7},{"x":43.92,"y":26.87,"n":16},{"x":45.96,"y":26.87,"n":18},{"x":48,"y":26.87,"n":26},{"x":50.04,"y":26.87,"n":32},{"x":56.16,"y":26.87,"n":3},{"x":58.2,"y":26.87,"n":8},{"x":60.24,"y":26.87,"n":5},{"x":62.27,"y":26.87,"n":5},{"x":66.35,"y":26.87,"n":2},{"x":72.47,"y":26.87,"n":2},{"x":74.51,"y":26.87,"n":4},{"x":76.55,"y":26.87,"n":3},{"x":78.59,"y":26.87,"n":2},{"x":84.71,"y":26.87,"n":2},
{"x":20.47,"y":24.84,"n":2},{"x":22.51,"y":24.84,"n":6},{"x":24.55,"y":24.84,"n":12},{"x":26.59,"y":24.84,"n":5},{"x":28.63,"y":24.84,"n":9},{"x":30.67,"y":24.84,"n":4},{"x":32.71,"y":24.84,"n":3},{"x":34.75,"y":24.84,"n":8},{"x":36.78,"y":24.84,"n":10},{"x":38.82,"y":24.84,"n":8},{"x":40.86,"y":24.84,"n":14},{"x":42.9,"y":24.84,"n":4},{"x":44.94,"y":24.84,"n":8},{"x":46.98,"y":24.84,"n":24},{"x":49.02,"y":24.84,"n":20},{"x":51.06,"y":24.84,"n":1},{"x":55.14,"y":24.84,"n":2},{"x":57.18,"y":24.84,"n":4},{"x":59.22,"y":24.84,"n":8},{"x":61.25,"y":24.84,"n":10},{"x":69.41,"y":24.84,"n":2},{"x":71.45,"y":24.84,"n":3},{"x":75.53,"y":24.84,"n":2},{"x":87.76,"y":24.84,"n":2},
{"x":23.53,"y":22.8,"n":5},{"x":25.57,"y":22.8,"n":6},{"x":27.61,"y":22.8,"n":5},{"x":29.65,"y":22.8,"n":6},{"x":31.69,"y":22.8,"n":7},{"x":33.73,"y":22.8,"n":3},{"x":35.76,"y":22.8,"n":9},{"x":37.8,"y":22.8,"n":10},{"x":39.84,"y":22.8,"n":14},{"x":41.88,"y":22.8,"n":6},{"x":43.92,"y":22.8,"n":9},{"x":45.96,"y":22.8,"n":14},{"x":48,"y":22.8,"n":18},{"x":50.04,"y":22.8,"n":18},{"x":56.16,"y":22.8,"n":2},{"x":58.2,"y":22.8,"n":3},{"x":60.24,"y":22.8,"n":1},{"x":62.27,"y":22.8,"n":3},
{"x":22.51,"y":20.77,"n":3},{"x":24.55,"y":20.77,"n":4},{"x":26.59,"y":20.77,"n":8},{"x":28.63,"y":20.77,"n":4},{"x":30.67,"y":20.77,"n":3},{"x":32.71,"y":20.77,"n":20},{"x":34.75,"y":20.77,"n":1},{"x":36.78,"y":20.77,"n":7},{"x":38.82,"y":20.77,"n":4},{"x":40.86,"y":20.77,"n":5},{"x":42.9,"y":20.77,"n":2},{"x":44.94,"y":20.77,"n":1},{"x":46.98,"y":20.77,"n":12},{"x":49.02,"y":20.77,"n":14},{"x":57.18,"y":20.77,"n":2},{"x":59.22,"y":20.77,"n":3},{"x":61.25,"y":20.77,"n":3},{"x":69.41,"y":20.77,"n":3},{"x":77.57,"y":20.77,"n":2},
{"x":23.53,"y":18.73,"n":3},{"x":25.57,"y":18.73,"n":7},{"x":27.61,"y":18.73,"n":10},{"x":29.65,"y":18.73,"n":3},{"x":31.69,"y":18.73,"n":3},{"x":33.73,"y":18.73,"n":1},{"x":35.76,"y":18.73,"n":10},{"x":37.8,"y":18.73,"n":3},{"x":39.84,"y":18.73,"n":4},{"x":41.88,"y":18.73,"n":5},{"x":43.92,"y":18.73,"n":6},{"x":45.96,"y":18.73,"n":14},{"x":48,"y":18.73,"n":3},{"x":50.04,"y":18.73,"n":14},{"x":54.12,"y":18.73,"n":2},{"x":58.2,"y":18.73,"n":3},{"x":60.24,"y":18.73,"n":1},{"x":62.27,"y":18.73,"n":2},{"x":82.67,"y":18.73,"n":2},
{"x":22.51,"y":16.69,"n":5},{"x":24.55,"y":16.69,"n":4},{"x":26.59,"y":16.69,"n":2},{"x":28.63,"y":16.69,"n":4},{"x":30.67,"y":16.69,"n":3},{"x":32.71,"y":16.69,"n":4},{"x":34.75,"y":16.69,"n":3},{"x":36.78,"y":16.69,"n":3},{"x":38.82,"y":16.69,"n":6},{"x":40.86,"y":16.69,"n":4},{"x":42.9,"y":16.69,"n":2},{"x":46.98,"y":16.69,"n":9},{"x":49.02,"y":16.69,"n":3},
{"x":23.53,"y":14.66,"n":3},{"x":27.61,"y":14.66,"n":4},{"x":31.69,"y":14.66,"n":3},{"x":33.73,"y":14.66,"n":6},{"x":35.76,"y":14.66,"n":3},{"x":37.8,"y":14.66,"n":3},{"x":39.84,"y":14.66,"n":3},{"x":41.88,"y":14.66,"n":3},{"x":43.92,"y":14.66,"n":3},{"x":45.96,"y":14.66,"n":3},{"x":48,"y":14.66,"n":2},{"x":50.04,"y":14.66,"n":2},{"x":54.12,"y":14.66,"n":1},{"x":56.16,"y":14.66,"n":1},{"x":70.43,"y":14.66,"n":2},{"x":78.59,"y":14.66,"n":1},
{"x":22.51,"y":12.62,"n":4},{"x":24.55,"y":12.62,"n":3},{"x":26.59,"y":12.62,"n":4},{"x":32.71,"y":12.62,"n":2},{"x":36.78,"y":12.62,"n":3},{"x":49.02,"y":12.62,"n":2},{"x":57.18,"y":12.62,"n":1},{"x":71.45,"y":12.62,"n":2},{"x":73.49,"y":12.62,"n":1},
{"x":21.49,"y":10.59,"n":3},{"x":23.53,"y":10.59,"n":3},{"x":27.61,"y":10.59,"n":3},{"x":35.76,"y":10.59,"n":3},{"x":37.8,"y":10.59,"n":3},{"x":39.84,"y":10.59,"n":3},
{"x":26.59,"y":8.55,"n":2},{"x":34.75,"y":8.55,"n":2},{"x":42.9,"y":8.55,"n":2},{"x":49.02,"y":8.55,"n":1},{"x":59.22,"y":8.55,"n":1},
{"x":39.84,"y":6.52,"n":2},{"x":41.88,"y":6.52,"n":2}
]},"mark":{"type":"point","filled":true,"opacity":1,"shape":"M0,-0.584L1,-0.292L1,0.292L0,0.584L-1,0.292L-1,-0.292Z","size":756,"stroke":"#ffffff","strokeOpacity":0.08,"strokeWidth":0.5},"encoding":{"x":{"field":"x","type":"quantitative"},"y":{"field":"y","type":"quantitative"},"color":{"field":"n","type":"quantitative","scale":{"scheme":"plasma","domain":[1,168]},"legend":{"title":"Number of students","orient":"none","legendX":320,"legendY":-106,"direction":"horizontal","gradientLength":178,"gradientThickness":36,"titleOrient":"left","titlePadding":19,"titleLimit":300,"titleFont":"Open Sans","titleFontSize":22,"titleFontWeight":"normal","titleColor":"#000000","titleBaseline":"line-top","titleLineHeight":6,"values":[40,80,120,160],"labelFont":"Liberation Sans","labelFontSize":18,"labelColor":"#000000","labelOffset":10}}}},{"data":{"values":[{"x":18.4,"y":35.5},{"x":100,"y":76.2}]},"mark":{"type":"line","color":"#5b8dff","strokeWidth":4},"encoding":{"x":{"field":"x","type":"quantitative"},"y":{"field":"y","type":"quantitative"}}}]}
